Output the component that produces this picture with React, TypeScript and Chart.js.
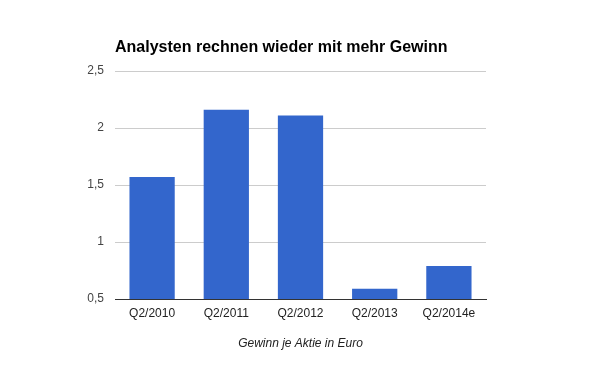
import React, { useEffect, useRef } from "react";
import { Chart, registerables } from "chart.js";

Chart.register(...registerables);

const categories = ["Q2/2010", "Q2/2011", "Q2/2012", "Q2/2013", "Q2/2014e"];
const values = [1.57, 2.16, 2.11, 0.59, 0.79];
const yMin = 0.5;
const yMax = 2.5;
const yStep = 0.5;
const titleText = "Analysten rechnen wieder mit mehr Gewinn";
const xAxisTitle = "Gewinn je Aktie in Euro";

export default function App() {
  const ref = useRef<HTMLCanvasElement | null>(null);

  useEffect(() => {
    if (!ref.current) return;
    Chart.defaults.font.family = 'Arial, "Liberation Sans", sans-serif';
    const chart = new Chart(ref.current, {
      type: "bar",
      data: {
        labels: categories,
        datasets: [
          {
            data: values,
            backgroundColor: "#3366cc",
            borderWidth: 0,
            barPercentage: 0.61,
            categoryPercentage: 1,
          },
        ],
      },
      options: {
        responsive: false,
        animation: false,
        layout: { padding: { left: 0, right: 114, top: 0, bottom: 20 } },
        plugins: {
          legend: { display: false },
          tooltip: { enabled: false },
          title: {
            display: true,
            text: titleText,
            align: "start",
            fullSize: false,
            color: "#000",
            font: { size: 16, weight: "bold" },
            padding: { top: 37.5, bottom: 14.3 },
          },
        },
        scales: {
          x: {
            grid: { display: false, drawTicks: false },
            border: { display: true, color: "#333", width: 1 },
            ticks: { color: "#222", font: { size: 12 }, padding: 7, maxRotation: 0 },
            title: {
              display: true,
              text: xAxisTitle,
              color: "#222",
              font: { size: 12, style: "italic" },
              padding: 0,
            },
            afterFit: (s: any) => {
              s.height = 52;
            },
          },
          y: {
            min: yMin,
            max: yMax,
            grid: {
              color: (c: any) => (c.tick && c.tick.value === yMin ? "rgba(0,0,0,0)" : "#cccccc"),
              drawTicks: false,
            },
            border: { display: false },
            ticks: {
              stepSize: yStep,
              color: "#444",
              font: { size: 12 },
              padding: 11,
              callback: (v: any) => String(v).replace(".", ","),
            },
            afterFit: (s: any) => {
              s.width = 115;
            },
          },
        },
      },
    });
    return () => chart.destroy();
  }, []);

  return (
    <div style={{ position: "absolute", left: 0, top: 0, width: 600, height: 371, background: "#fff" }}>
      <canvas ref={ref} width={600} height={371} style={{ display: "block" }} />
    </div>
  );
}
